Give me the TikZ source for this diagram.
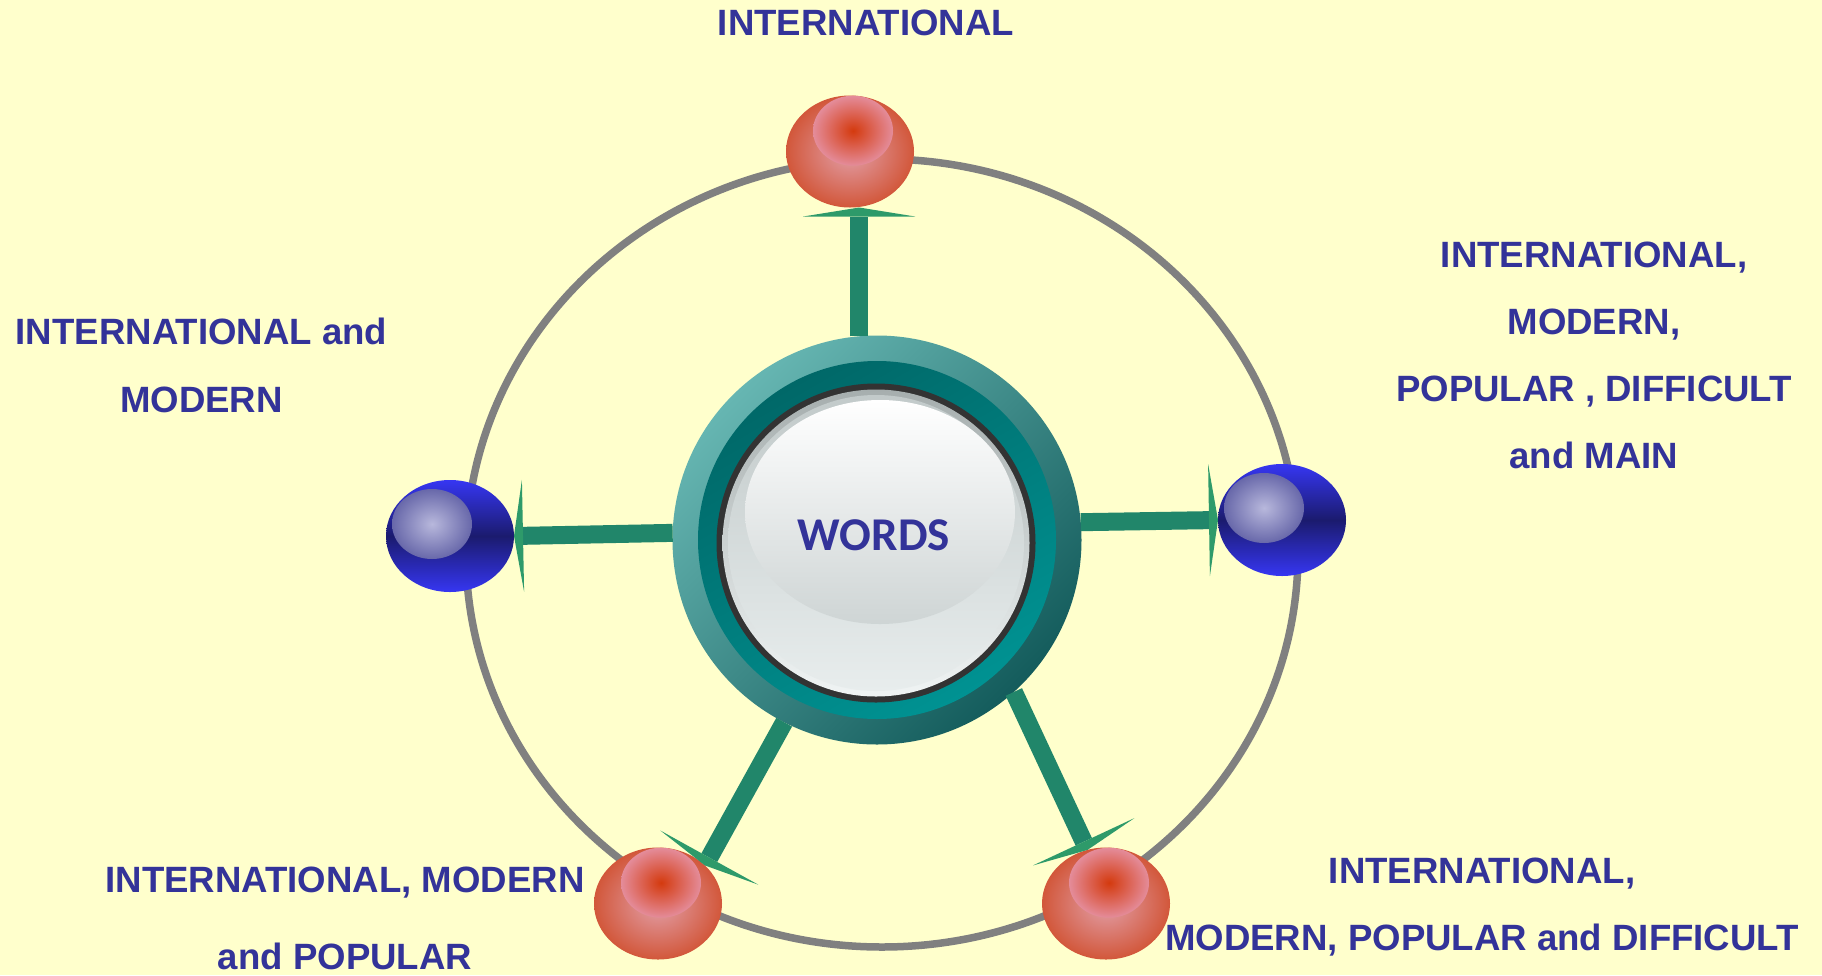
\documentclass[tikz,border=0pt]{standalone}
\usepackage{fontspec}
\setmainfont{Liberation Sans}
\newfontfamily\wordsfont{Carlito}
\usetikzlibrary{shapes.geometric, arrows.meta, positioning}

\definecolor{bgyellow}{HTML}{FFFFCC}
\definecolor{labelblue}{HTML}{333399}
\definecolor{ringgray}{HTML}{808080}
\definecolor{spokegreen}{HTML}{21866A}
\definecolor{headgreen}{HTML}{2E9A6A}
\definecolor{tealhi}{HTML}{66B6B2}
\definecolor{tealdeep}{HTML}{145C5C}
\definecolor{tealmid}{HTML}{006868}
\definecolor{tealbright}{HTML}{009292}
\definecolor{rimgray}{HTML}{A6AEAE}
\definecolor{rimlight}{HTML}{F0F4F4}
\definecolor{discgray}{HTML}{C2CACA}
\definecolor{disclight}{HTML}{E8EDED}
\definecolor{redrim}{HTML}{D2573A}
\definecolor{redcore}{HTML}{E2A0AA}
\definecolor{redhot}{HTML}{D43A0E}
\definecolor{redpink}{HTML}{E48C9A}
\definecolor{blueedge}{HTML}{3636F2}
\definecolor{bluedark}{HTML}{1B1B6E}
\definecolor{bluelight}{HTML}{B8B8DC}
\definecolor{bluehaze}{HTML}{6868AA}

\begin{document}
\begin{tikzpicture}[
    x=1pt, y=-1pt,
    ball/.style={ellipse, minimum width=128pt, minimum height=112pt, inner sep=0pt, outer sep=0pt},
    redball/.style={ball, inner color=redcore, outer color=redrim},
    blueball/.style={ball, top color=blueedge, bottom color=blueedge, middle color=bluedark},
    redglow/.style={ellipse, minimum width=80pt, minimum height=70pt, inner sep=0pt, inner color=redhot, outer color=redpink},
    blueglow/.style={ellipse, minimum width=80pt, minimum height=70pt, inner sep=0pt, inner color=bluelight, outer color=bluehaze},
    spoke/.style={line width=18pt, draw=spokegreen, -{Triangle[length=9pt, width=112pt, line width=0pt, color=headgreen]}},
    lbl/.style={font=\fontsize{36.6}{67}\selectfont\bfseries, text=labelblue, align=center, inner sep=0pt, anchor=north},
    core/.style={circle, minimum size=409pt, inner sep=0pt, outer sep=0pt, top color=tealhi, bottom color=tealdeep, shading angle=45}
]
\useasboundingbox (0,0) rectangle (1822,975);
\fill[bgyellow] (0,0) rectangle (1822,975);

% Orbit
\draw[ringgray, line width=7.5pt] (882,553) ellipse [x radius=416pt, y radius=394pt];

% Hub and balls
\node[core] (core) at (877,540) {};
\node[redball] (ballT) at (850,151.5) {};
\node[blueball] (ballR) at (1282,520) {};
\node[blueball] (ballL) at (450,536) {};
\node[redball] (ballBL) at (658,903.5) {};
\node[redball] (ballBR) at (1106,903.5) {};

% Spokes
\draw[spoke] (core.95.3) -- (core.95.3 |- ballT.south);
\draw[spoke] (core.5.6) -- (ballR.west);
\draw[spoke] (core.178.9) -- (ballL.east);
\draw[spoke] (core.-117.4) -- (ballBL.39);
\draw[spoke] (core.-48.4) -- (ballBR.109.7);

% Hub face
\shade[top color=tealmid, bottom color=tealbright, shading angle=30] (core) circle [radius=179pt];
\fill[black!80] (876,543) circle [radius=159.5pt];
\shade[top color=rimgray, bottom color=rimlight] (876,543) circle [radius=153.5pt];
\shade[top color=discgray, bottom color=disclight] (876,543) circle [radius=148pt];
\shade[top color=white, bottom color=discgray!80] (880,512) ellipse [x radius=135pt, y radius=112pt];
\node[font=\wordsfont\fontsize{47}{50}\selectfont\bfseries, text=labelblue] (words) at (874,535) {WORDS};

% Ball highlights
\node[redglow, below=0pt of ballT.north, xshift=3pt] (glowT) {};
\node[redglow, below=0pt of ballBL.north, xshift=3pt] (glowBL) {};
\node[redglow, below=0pt of ballBR.north, xshift=3pt] (glowBR) {};
\node[blueglow, xshift=-18pt, yshift=12pt] (glowR) at (ballR) {};
\node[blueglow, xshift=-18pt, yshift=12pt] (glowL) at (ballL) {};

% Labels
\node[lbl] (labTop) at (866,10) {INTERNATIONAL};
\node[lbl, font=\fontsize{36.6}{68}\selectfont\bfseries] (labLeft) at (201.5,318) {INTERNATIONAL and\\MODERN};
\node[lbl] (labRight) at (1594,242) {INTERNATIONAL,\\MODERN,\\POPULAR , DIFFICULT\\and MAIN};
\node[lbl, font=\fontsize{36.6}{77}\selectfont\bfseries] (labBL) at (345,867) {INTERNATIONAL, MODERN\\and POPULAR};
\node[lbl] (labBR) at (1482,858) {INTERNATIONAL,\\MODERN, POPULAR and DIFFICULT};

\end{tikzpicture}
\end{document}
